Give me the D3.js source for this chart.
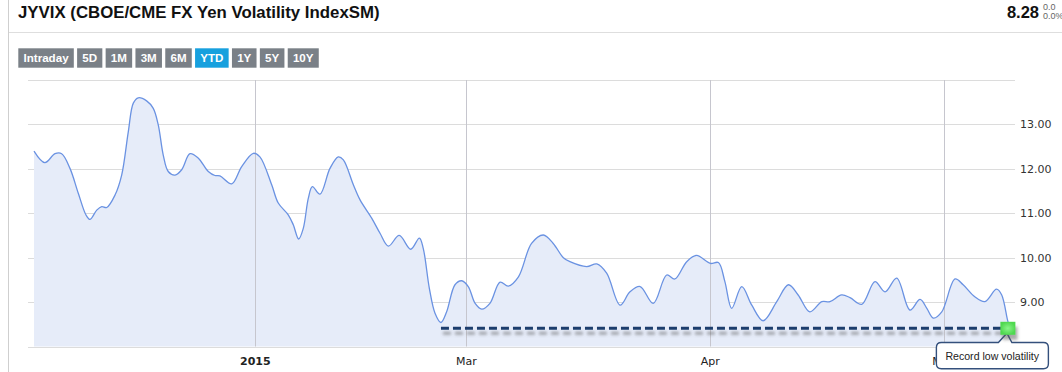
<!DOCTYPE html>
<html><head><meta charset="utf-8">
<script src="https://cdn.jsdelivr.net/npm/d3@7"></script>
<style>body{margin:0;background:#fff;} svg{display:block;}</style>
</head><body><svg id="c" width="1062" height="372"></svg>
<script>
// ---------- data ----------
const titleText = "JYVIX (CBOE/CME FX Yen Volatility IndexSM)";
const lastValue = "8.28";
const changeAbs = "0.0";
const changePct = "0.0%";
const rangeButtons = ["Intraday","5D","1M","3M","6M","YTD","1Y","5Y","10Y"];
const activeButton = "YTD";

const dates = [
 "2014-11-01T00","2014-11-04T00","2014-11-06T19","2014-11-08T15","2014-11-10T22","2014-11-13T05","2014-11-15T08","2014-11-16T10",
 "2014-11-18T07","2014-11-19T16","2014-11-21T01","2014-11-23T08","2014-11-25T04","2014-11-27T00","2014-11-28T09","2014-11-29T18",
 "2014-12-02T01","2014-12-03T21","2014-12-05T06","2014-12-06T15","2014-12-08T00","2014-12-09T21","2014-12-11T17","2014-12-14T00",
 "2014-12-16T07","2014-12-19T01","2014-12-20T21","2014-12-22T06","2014-12-25T12","2014-12-28T06","2014-12-31T11",
 "2015-01-02T07","2015-01-05T14","2015-01-07T10","2015-01-10T06","2015-01-11T15","2015-01-13T03","2015-01-14T10","2015-01-15T20",
 "2015-01-16T23","2015-01-19T02","2015-01-21T21","2015-01-24T05","2015-01-25T15","2015-01-28T10","2015-01-30T07",
 "2015-02-02T13","2015-02-04T21","2015-02-07T05","2015-02-10T06","2015-02-13T11","2015-02-15T21","2015-02-16T23","2015-02-18T16",
 "2015-02-20T06","2015-02-21T22","2015-02-23T12","2015-02-25T20","2015-02-27T17",
 "2015-03-01T06","2015-03-02T03","2015-03-02T23","2015-03-04T00","2015-03-05T07","2015-03-06T08","2015-03-07T15","2015-03-09T07",
 "2015-03-10T19","2015-03-12T01","2015-03-13T08","2015-03-14T04","2015-03-16T07","2015-03-17T14","2015-03-18T20","2015-03-20T13",
 "2015-03-21T19","2015-03-23T02","2015-03-24T18","2015-03-26T11","2015-03-27T12","2015-03-29T00","2015-03-30T06",
 "2015-04-01T00","2015-04-02T01","2015-04-02T21","2015-04-03T18","2015-04-05T01","2015-04-06T08","2015-04-07T19","2015-04-09T13",
 "2015-04-11T01","2015-04-12T07","2015-04-13T19","2015-04-15T08","2015-04-16T09","2015-04-17T21","2015-04-18T23","2015-04-20T11",
 "2015-04-22T04","2015-04-23T11","2015-04-24T23","2015-04-26T16","2015-04-27T23","2015-04-28T20","2015-04-29T16","2015-04-30T18",
 "2015-05-02T11","2015-05-03T12","2015-05-05T00","2015-05-06T07","2015-05-07T19","2015-05-08T11","2015-05-09T07","2015-05-09T12"
];
const values = [
 12.40,12.14,12.34,12.34,12.01,11.45,10.96,10.86,
 11.07,11.15,11.13,11.41,11.86,12.84,13.48,13.60,
 13.53,13.36,12.99,12.31,11.94,11.86,11.98,12.34,
 12.24,11.94,11.85,11.84,11.66,12.05,12.35,
 12.27,11.64,11.23,10.96,10.74,10.42,10.66,11.34,
 11.60,11.43,12.01,12.27,12.20,11.64,11.30,
 10.89,10.55,10.26,10.50,10.19,10.44,10.21,9.31,
 8.75,8.54,8.78,9.39,9.48,
 9.35,8.97,8.84,8.97,9.45,9.36,9.57,10.32,
 10.51,10.32,10.00,9.91,9.80,9.86,9.65,8.93,
 9.23,9.35,8.97,9.61,9.52,9.91,10.05,
 9.87,9.89,9.46,8.86,9.35,8.93,8.58,9.01,
 9.39,9.16,8.78,9.01,9.01,9.16,9.10,8.95,
 9.46,9.23,9.54,8.82,9.06,8.86,8.64,8.78,
 9.52,9.39,9.12,9.01,9.29,9.16,8.54,8.48
];

const yTickValues = [9,10,11,12,13];
const yGridValues = [8,9,10,11,12,13,14];
const xTickDates = ["2015-01-01T00","2015-03-01T00","2015-04-01T00","2015-05-01T00"];
const xTickLabels = ["2015","Mar","Apr","May"];
const xTickBold = [true,false,false,false];

const recordLow = 8.41;
const recordStart = "2015-02-21T22";
const recordDate = "2015-05-09T06";
const annotationText = "Record low volatility";

// ---------- setup ----------
const parse = d3.timeParse("%Y-%m-%dT%H");
const data = dates.map((d,i)=>({date:parse(d), value:values[i]}));
const svg = d3.select("#c");

const x = d3.scaleTime()
  .domain(["2014-11-01T00","2015-01-01T00","2015-03-01T00","2015-04-01T00","2015-05-01T00"].map(parse))
  .range([34,255.3,466.3,710.3,943.7]);
const y = d3.scaleLinear().domain([8,14]).range([346.5,80]);

const gridLeft = 28, gridRight = 1015;

// left border & header rule
svg.append("line").attr("x1",8.5).attr("x2",8.5).attr("y1",0).attr("y2",372).attr("stroke","#cfcfcf");
svg.append("line").attr("x1",9).attr("x2",1062).attr("y1",32.5).attr("y2",32.5).attr("stroke","#dedede");

// title (fitted to the reference width)
const title = svg.append("text").attr("x",18).attr("y",17.5).text(titleText)
  .attr("font-family","Liberation Sans, Arial, sans-serif").attr("font-weight","bold")
  .attr("font-size",17).attr("fill","#111");
const tw = title.node().getComputedTextLength();
title.attr("font-size", 17 * 362 / tw);

svg.append("text").attr("x",1039).attr("y",17.5).attr("text-anchor","end").text(lastValue)
  .attr("font-family","Liberation Sans, Arial, sans-serif").attr("font-weight","bold")
  .attr("font-size",16.5).attr("fill","#111");
svg.append("text").attr("x",1043).attr("y",10).text(changeAbs)
  .attr("font-family","Liberation Sans, Arial, sans-serif").attr("font-size",9).attr("fill","#666");
svg.append("text").attr("x",1043).attr("y",18.5).text(changePct)
  .attr("font-family","Liberation Sans, Arial, sans-serif").attr("font-size",9).attr("fill","#666");

// range buttons
let bx = 18.3;
const gBtn = svg.append("g");
rangeButtons.forEach(lbl=>{
  const g = gBtn.append("g");
  const rect = g.append("rect").attr("y",48.3).attr("height",19.4)
    .attr("fill", lbl===activeButton ? "#17a0de" : "#7a8087");
  const t = g.append("text").text(lbl).attr("y",62.4)
    .attr("font-family","Liberation Sans, Arial, sans-serif").attr("font-weight","bold")
    .attr("font-size",11.6).attr("fill","#fff");
  const w = t.node().getComputedTextLength();
  const bw = w + 10.4;
  rect.attr("x",bx).attr("width",bw);
  t.attr("x",bx+5.2);
  bx += bw + 3.3;
});

// gridlines
svg.append("g").selectAll("line").data(yGridValues).join("line")
  .attr("x1",gridLeft).attr("x2",gridRight)
  .attr("y1",d=>Math.round(y(d))+0.5).attr("y2",d=>Math.round(y(d))+0.5)
  .attr("stroke","#dcdcdc");

// area & line
const area = d3.area().x(d=>x(d.date)).y0(y(8)).y1(d=>y(d.value)).curve(d3.curveCatmullRom.alpha(0.5));
const line = d3.line().x(d=>x(d.date)).y(d=>y(d.value)).curve(d3.curveCatmullRom.alpha(0.5));
svg.append("path").datum(data).attr("d",area).attr("fill","#e6ecf9");

// vertical gridlines (over fill)
svg.append("g").selectAll("line").data(xTickDates).join("line")
  .attr("x1",d=>Math.round(x(parse(d)))+0.5).attr("x2",d=>Math.round(x(parse(d)))+0.5)
  .attr("y1",80).attr("y2",346.5).attr("stroke","#c6c6ce");

svg.append("path").datum(data).attr("d",line).attr("fill","none")
  .attr("stroke","#6a92e2").attr("stroke-width",1.3);

// y labels
svg.append("g").selectAll("text").data(yTickValues).join("text")
  .attr("x",1020).attr("y",d=>y(d)).attr("dy","0.35em")
  .text(d=>d3.format(".2f")(d))
  .attr("font-family","DejaVu Sans, Verdana, sans-serif").attr("font-size",11).attr("fill","#333");

// x labels
svg.append("g").selectAll("text").data(xTickDates).join("text")
  .attr("x",d=>x(parse(d))).attr("y",365).attr("text-anchor","middle")
  .text((d,i)=>xTickLabels[i])
  .attr("font-weight",(d,i)=>xTickBold[i]?"bold":"normal")
  .attr("font-family","DejaVu Sans, Verdana, sans-serif").attr("font-size",11).attr("fill","#222");

// record-low dashed line with shadow
const defs = svg.append("defs");
const f = defs.append("filter").attr("id","sh").attr("filterUnits","userSpaceOnUse")
  .attr("x",0).attr("y",0).attr("width",1062).attr("height",372);
f.append("feDropShadow").attr("dx",2).attr("dy",5).attr("stdDeviation",1.4)
  .attr("flood-color","#555").attr("flood-opacity",0.5);

const rx0 = x(parse(recordStart)), rx1 = x(parse(recordDate)), ry = y(recordLow);
svg.append("line").attr("x1",rx0).attr("x2",rx1).attr("y1",ry).attr("y2",ry)
  .attr("stroke","#1d3e6d").attr("stroke-width",3).attr("stroke-dasharray","8,4")
  .attr("filter","url(#sh)");

// callout
const L = rx1-71.5, R = rx1+40.5, T = 342.5, B = 368.8, r = 5;
const tipX = rx1-1, tipY = ry+5;
const p = `M${L+r},${T} H${rx1-9.5} L${tipX},${tipY} L${rx1+4},${T} H${R-r} Q${R},${T} ${R},${T+r} V${B-r} Q${R},${B} ${R-r},${B} H${L+r} Q${L},${B} ${L},${B-r} V${T+r} Q${L},${T} ${L+r},${T} Z`;
svg.append("path").attr("d",p).attr("fill","#fff").attr("stroke","#34507c").attr("stroke-width",1.4);
svg.append("text").attr("x",L+9).attr("y",359.5).text(annotationText)
  .attr("font-family","Liberation Sans, Arial, sans-serif").attr("font-size",10.6).attr("fill","#222");

// green marker
const gg = defs.append("radialGradient").attr("id","gm");
gg.append("stop").attr("offset","0%").attr("stop-color","#8af58a");
gg.append("stop").attr("offset","100%").attr("stop-color","#4fd84f");
svg.append("rect").attr("x",rx1-7.5).attr("y",ry-6.5).attr("width",15).attr("height",13)
  .attr("fill","url(#gm)").attr("filter","url(#sh)");
</script></body></html>
